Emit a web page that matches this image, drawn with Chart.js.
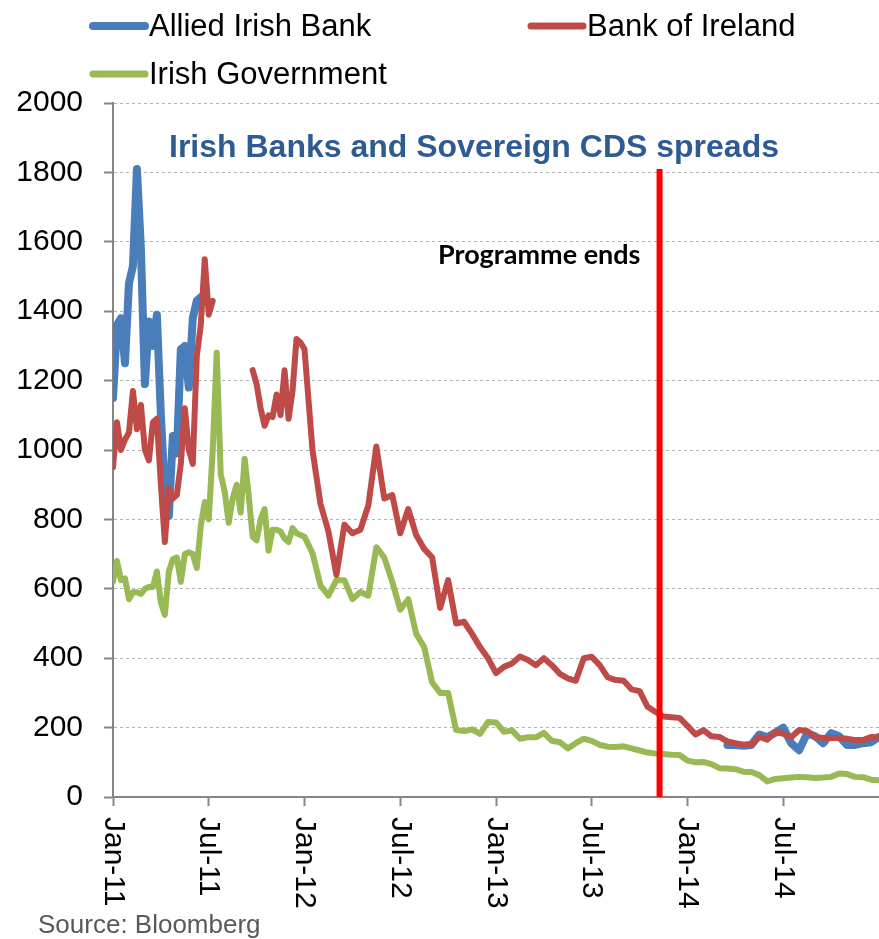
<!DOCTYPE html>
<html lang="en">
<head>
<meta charset="UTF-8">
<title>Irish Banks and Sovereign CDS spreads</title>
<script src="https://cdn.jsdelivr.net/npm/chart.js"></script>
<style>
  html, body { margin: 0; padding: 0; background: #fff; }
  #wrap { width: 879px; height: 939px; }
</style>
</head>
<body>
<div id="wrap"><canvas id="cdsChart" width="879" height="939"></canvas></div>
<script>
// months since Jan 2011 (weekly-ish in 2011, twice a month afterwards)
const monthIndex = [
  0, 0.25, 0.5, 0.75, 1, 1.25, 1.5, 1.75, 2, 2.25, 2.5, 2.75, 3, 3.25, 3.5, 3.75,
  4, 4.25, 4.5, 4.75, 5, 5.25, 5.5, 5.75, 6, 6.25, 6.5, 6.75, 7, 7.25, 7.5, 7.75,
  8, 8.25, 8.5, 8.75, 9, 9.25, 9.5, 9.75, 10, 10.25, 10.5, 10.75, 11, 11.25, 11.5, 11.75, 12,
  12.5, 13, 13.5, 14, 14.5, 15, 15.5, 16, 16.5, 17,
  17.5, 18, 18.5, 19, 19.5, 20, 20.5, 21, 21.5, 22,
  22.5, 23, 23.5, 24, 24.5, 25, 25.5, 26, 26.5, 27,
  27.5, 28, 28.5, 29, 29.5, 30, 30.5, 31, 31.5, 32,
  32.5, 33, 33.5, 34, 34.5, 35, 35.5, 36, 36.5, 37,
  37.5, 38, 38.5, 39, 39.5, 40, 40.5, 41, 41.5, 42,
  42.5, 43, 43.5, 44, 44.5, 45, 45.5, 46, 46.5, 47,
  47.5, 48
];

const alliedIrish = [
  1150, 1360, 1380, 1250, 1480, 1530, 1810, 1580, 1190, 1370, 1300, 1390, 1100, 880, 810, 1040,
  990, 1290, 1300, 1180, 1380, 1430, 1440, null, null, null, null, null, null, null, null, null,
  null, null, null, null, null, null, null, null, null, null, null, null, null, null, null, null, null,
  null, null, null, null, null, null, null, null, null, null,
  null, null, null, null, null, null, null, null, null, null,
  null, null, null, null, null, null, null, null, null, null,
  null, null, null, null, null, null, null, null, null, null,
  null, null, null, null, null, null, null, null, null, null,
  null, null, 150, 150, 148, 150, 180, 172, 185, 200,
  155, 135, 184, 175, 155, 184, 175, 150, 150, 155,
  158, 173
];

const bankOfIreland = [
  950, 1080, 1000, 1030, 1050, 1170, 1060, 1130, 1000, 970, 1080, 1090, 900, 735, 890, 860,
  870, 960, 1120, 1000, 960, 1270, 1360, 1550, 1390, 1430, null, null, null, null, null, null,
  null, null, null, 1230, 1190, 1120, 1070, 1100, 1095, 1160, 1100, 1230, 1090, 1170, 1320, 1310, 1290,
  1000, 845, 765, 640, 785, 760, 770, 840, 1010, 860,
  870, 760, 830, 755, 715, 690, 545, 625, 500, 505,
  470, 432, 400, 357, 375, 385, 405, 395, 380, 400,
  380, 355, 342, 335, 400, 404, 380, 345, 337, 335,
  310, 305, 260, 245, 232, 230, 228, 205, 180, 193,
  175, 173, 160, 155, 150, 152, 173, 165, 188, 182,
  172, 193, 190, 173, 170, 170, 170, 168, 164, 164,
  173, 172
];

const irishGovernment = [
  620, 680, 625, 630, 570, 590, 590, 585, 600, 605, 605, 650, 560, 525, 650, 685,
  690, 620, 700, 705, 700, 660, 780, 850, 800, 1000, 1280, 930, 880, 790, 860, 900,
  820, 975, 870, 750, 740, 800, 830, 710, 770, 770, 765, 745, 735, 775, 760, 755, 750,
  703, 610, 580, 625, 625, 570, 591, 580, 720, 690,
  620, 540, 570, 470, 432, 330, 300, 300, 193, 190,
  195, 182, 216, 215, 188, 192, 168, 172, 172, 185,
  162, 158, 140, 155, 168, 162, 150, 145, 144, 146,
  140, 134, 128, 125, 124, 122, 121, 105, 100, 101,
  95, 83, 82, 80, 73, 72, 63, 45, 52, 54,
  56, 58, 57, 55, 56, 58, 68, 66, 58, 57,
  50, 48
];

const tickMonths = [0, 6, 12, 18, 24, 30, 36, 42];
const tickLabels = ['Jan-11', 'Jul-11', 'Jan-12', 'Jul-12', 'Jan-13', 'Jul-13', 'Jan-14', 'Jul-14'];

const programmeEnd = 34.25;   // month of the vertical marker
const programmeTop = 1810;    // marker reaches up to this value

const FONT = "'Liberation Sans', Arial, sans-serif";

function series(values) {
  return monthIndex.map((m, i) => ({ x: m, y: values[i] }));
}

// legend, title, notes, rotated month labels and the red marker
const overlay = {
  id: 'overlay',
  afterDatasetsDraw(chart) {
    const { ctx, chartArea, scales: { x, y } } = chart;
    const px = x.getPixelForValue(programmeEnd);
    ctx.save();
    ctx.strokeStyle = '#ff0000';
    ctx.lineWidth = 6;
    ctx.beginPath();
    ctx.moveTo(px, y.getPixelForValue(programmeTop));
    ctx.lineTo(px, chartArea.bottom);
    ctx.stroke();
    ctx.restore();
  },
  afterDraw(chart) {
    const { ctx, chartArea, scales: { x } } = chart;
    const ds = chart.data.datasets;
    ctx.save();

    // legend (two columns like the original)
    const spots = [[90, 26], [528, 26], [90, 74]];
    ctx.font = '31px ' + FONT;
    ctx.textBaseline = 'middle';
    ctx.textAlign = 'left';
    ds.forEach((d, i) => {
      const [lx, ly] = spots[i];
      ctx.strokeStyle = d.borderColor;
      ctx.lineWidth = i === 0 ? 8 : 7;
      ctx.lineCap = 'round';
      ctx.beginPath();
      ctx.moveTo(lx + 3, ly);
      ctx.lineTo(lx + 55, ly);
      ctx.stroke();
      ctx.fillStyle = '#000';
      ctx.fillText(d.label, lx + 59, ly + 1);
    });

    // title inside the plot
    ctx.font = 'bold 32px ' + FONT;
    ctx.fillStyle = '#2e5b92';
    ctx.textAlign = 'center';
    ctx.textBaseline = 'alphabetic';
    ctx.fillText('Irish Banks and Sovereign CDS spreads', 474, 157);

    // marker note
    ctx.font = "bold 27px Lato, 'Noto Sans', sans-serif";
    ctx.fillStyle = '#000';
    ctx.textAlign = 'left';
    ctx.fillText('Programme ends', 438, 264);

    // rotated month labels
    ctx.font = '30px ' + FONT;
    ctx.textBaseline = 'middle';
    tickMonths.forEach((m, i) => {
      ctx.save();
      ctx.translate(x.getPixelForValue(m), chartArea.bottom + 20);
      ctx.rotate(Math.PI / 2);
      ctx.fillText(tickLabels[i], 0, 0);
      ctx.restore();
    });

    // source
    ctx.font = '26px ' + FONT;
    ctx.fillStyle = '#595959';
    ctx.textBaseline = 'alphabetic';
    ctx.fillText('Source: Bloomberg', 38, 933);
    ctx.restore();
  }
};

const chart = new Chart(document.getElementById('cdsChart'), {
  type: 'line',
  data: {
    datasets: [
      { label: 'Allied Irish Bank', data: series(alliedIrish), borderColor: '#4a7ebb', borderWidth: 8, order: 1 },
      { label: 'Bank of Ireland', data: series(bankOfIreland), borderColor: '#be4b48', borderWidth: 6, order: 0 },
      { label: 'Irish Government', data: series(irishGovernment), borderColor: '#98b954', borderWidth: 6, order: 2 }
    ]
  },
  options: {
    responsive: false,
    animation: false,
    events: [],
    elements: {
      point: { radius: 0 },
      line: { tension: 0, borderJoinStyle: 'round', borderCapStyle: 'round' }
    },
    layout: { padding: { left: 13, top: 103, right: 0, bottom: 0 } },
    plugins: {
      legend: { display: false },
      tooltip: { enabled: false }
    },
    scales: {
      x: {
        type: 'linear',
        min: 0,
        max: 48,
        afterBuildTicks: s => { s.ticks = tickMonths.map(v => ({ value: v })); },
        afterFit: s => { s.height = 142; },
        ticks: { display: false },
        grid: { drawOnChartArea: false, tickLength: 9, tickColor: '#868686', tickWidth: 2 },
        border: { color: '#868686', width: 2 }
      },
      y: {
        min: 0,
        max: 2000,
        afterFit: s => { s.width = 100; },
        ticks: {
          stepSize: 200,
          padding: 21,
          color: '#000',
          font: { size: 30, family: FONT },
          callback: v => String(v)
        },
        grid: { color: '#b4b4b4', lineWidth: 1, tickLength: 9, tickColor: '#868686', tickWidth: 2 },
        border: { color: '#868686', width: 2, dash: [3, 3] }
      }
    }
  },
  plugins: [overlay]
});
</script>
</body>
</html>
